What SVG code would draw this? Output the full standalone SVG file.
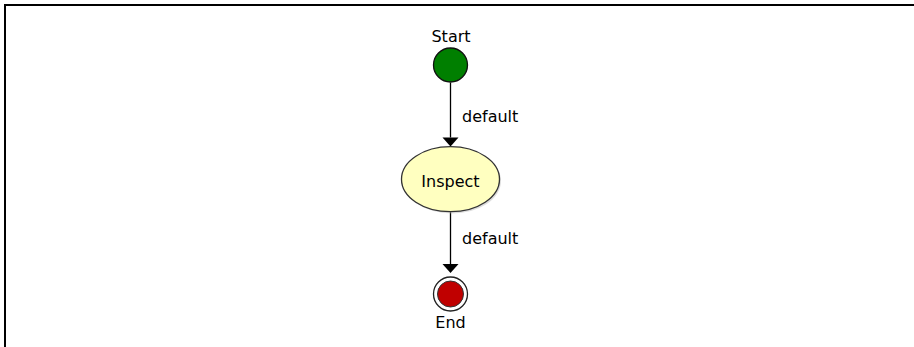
<svg xmlns="http://www.w3.org/2000/svg" width="914" height="347" viewBox="0 0 914 347">
<style>
text{font-family:"DejaVu Sans","Liberation Sans",sans-serif;font-size:16px;fill:#000}
.lbl{text-anchor:middle}
.edge{stroke:#000;stroke-width:1.3;fill:none}
.border{stroke:#000;stroke-width:2;fill:none}
</style>
<rect width="914" height="347" fill="#fff"/>
<path class="border" d="M5,347 L5,5 L914,5"/>
<g id="connectors">
<line class="edge" x1="450.5" y1="82.5" x2="450.5" y2="137.5"/>
<path d="M442.5,137.5 L458.5,137.5 L450.5,146.5 Z" fill="#000"/>
<text x="462" y="122">default</text>
<line class="edge" x1="450.5" y1="211.5" x2="450.5" y2="264"/>
<path d="M442.5,264 L458.5,264 L450.5,273 Z" fill="#000"/>
<text x="462" y="244">default</text>
</g>
<g id="start">
<circle cx="450.5" cy="65" r="17" fill="#007f00" stroke="#111" stroke-width="1.3"/>
<text class="lbl" x="451" y="42">Start</text>
</g>
<g id="inspect">
<ellipse cx="452" cy="181" rx="49" ry="32.5" fill="#bbb" opacity="0.5"/>
<ellipse cx="450.5" cy="179.2" rx="49" ry="32.5" fill="#ffffc0" stroke="#333" stroke-width="1.3"/>
<text class="lbl" x="450.5" y="187">Inspect</text>
</g>
<g id="end">
<circle cx="450.5" cy="294" r="17" fill="#fff" stroke="#222" stroke-width="1.3"/>
<circle cx="450.5" cy="294" r="13" fill="#c00000" stroke="#333" stroke-width="1"/>
<text class="lbl" x="450.5" y="328">End</text>
</g>
</svg>
